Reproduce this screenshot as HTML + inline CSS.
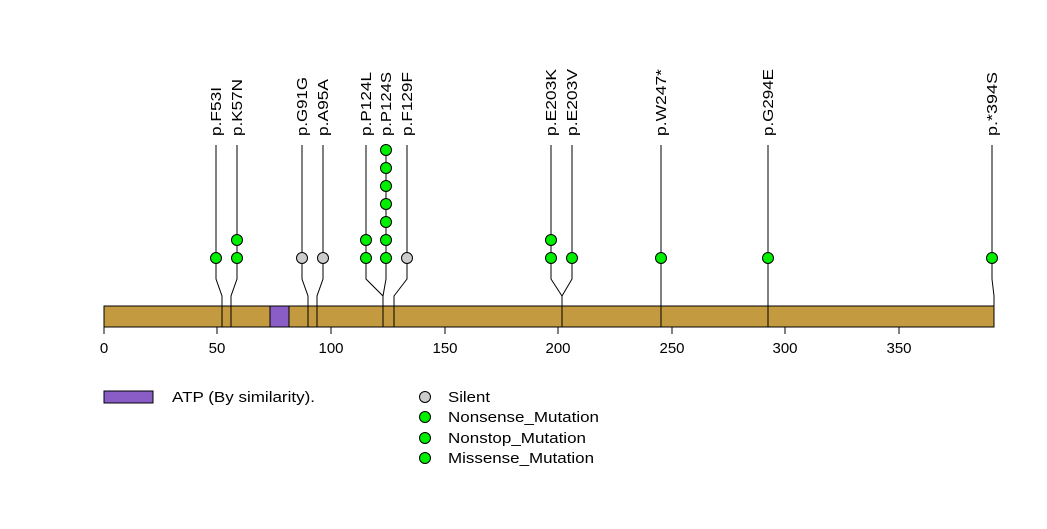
<!DOCTYPE html>
<html><head><style>body{margin:0;background:#fff}</style></head><body>
<svg width="1047" height="524" xmlns="http://www.w3.org/2000/svg" font-family="Liberation Sans, sans-serif">
<rect x="0" y="0" width="1047" height="524" fill="#fff"/>
<g stroke="#000" stroke-width="1" fill="none">
<polyline points="216,145 216,279 222,296 222,327"/>
<polyline points="237,145 237,279 231,296 231,327"/>
<polyline points="302,145 302,279 308,296 308,327"/>
<polyline points="323,145 323,279 317,296 317,327"/>
<polyline points="366,145 366,279 383,296 383,327"/>
<polyline points="386,145 386,279 383,296"/>
<polyline points="407,145 407,279 394,296 394,327"/>
<polyline points="551,145 551,279 562,296 562,327"/>
<polyline points="572,145 572,279 562,296"/>
<polyline points="661,145 661,327"/>
<polyline points="768,145 768,327"/>
<polyline points="992,145 992,279 994,296 994,327"/>
</g>
<rect x="104" y="306" width="890" height="21" fill="#c49a40" stroke="#000"/>
<rect x="270" y="306" width="19" height="21" fill="#8a5cc6" stroke="#000"/>
<g stroke="#000">
<line x1="222" y1="306" x2="222" y2="327"/><line x1="231" y1="306" x2="231" y2="327"/>
<line x1="308" y1="306" x2="308" y2="327"/><line x1="317" y1="306" x2="317" y2="327"/>
<line x1="383" y1="306" x2="383" y2="327"/><line x1="394" y1="306" x2="394" y2="327"/>
<line x1="562" y1="306" x2="562" y2="327"/><line x1="661" y1="306" x2="661" y2="327"/>
<line x1="768" y1="306" x2="768" y2="327"/>
</g>
<g stroke="#000" fill="#00ee00">
<circle cx="216" cy="258" r="5.5"/>
<circle cx="237" cy="258" r="5.5"/><circle cx="237" cy="240" r="5.5"/>
<circle cx="366" cy="258" r="5.5"/><circle cx="366" cy="240" r="5.5"/>
<circle cx="386" cy="258" r="5.5"/><circle cx="386" cy="240" r="5.5"/><circle cx="386" cy="222" r="5.5"/><circle cx="386" cy="204" r="5.5"/><circle cx="386" cy="186" r="5.5"/><circle cx="386" cy="168" r="5.5"/><circle cx="386" cy="150" r="5.5"/>
<circle cx="551" cy="258" r="5.5"/><circle cx="551" cy="240" r="5.5"/>
<circle cx="572" cy="258" r="5.5"/>
<circle cx="661" cy="258" r="5.5"/>
<circle cx="768" cy="258" r="5.5"/>
<circle cx="992" cy="258" r="5.5"/>
</g>
<g stroke="#000" fill="#cccccc">
<circle cx="302" cy="258" r="5.5"/><circle cx="323" cy="258" r="5.5"/><circle cx="407" cy="258" r="5.5"/>
</g>
<g font-size="15" fill="#000" lengthAdjust="spacingAndGlyphs">
<text transform="translate(221,136) rotate(-90)" textLength="49" lengthAdjust="spacingAndGlyphs">p.F53I</text>
<text transform="translate(242,136) rotate(-90)" textLength="57" lengthAdjust="spacingAndGlyphs">p.K57N</text>
<text transform="translate(307,136) rotate(-90)" textLength="59" lengthAdjust="spacingAndGlyphs">p.G91G</text>
<text transform="translate(328,136) rotate(-90)" textLength="57" lengthAdjust="spacingAndGlyphs">p.A95A</text>
<text transform="translate(371,136) rotate(-90)" textLength="64" lengthAdjust="spacingAndGlyphs">p.P124L</text>
<text transform="translate(391,136) rotate(-90)" textLength="64" lengthAdjust="spacingAndGlyphs">p.P124S</text>
<text transform="translate(412,136) rotate(-90)" textLength="64" lengthAdjust="spacingAndGlyphs">p.F129F</text>
<text transform="translate(556,136) rotate(-90)" textLength="67" lengthAdjust="spacingAndGlyphs">p.E203K</text>
<text transform="translate(577,136) rotate(-90)" textLength="67" lengthAdjust="spacingAndGlyphs">p.E203V</text>
<text transform="translate(666,136) rotate(-90)" textLength="67" lengthAdjust="spacingAndGlyphs">p.W247*</text>
<text transform="translate(773,136) rotate(-90)" textLength="67" lengthAdjust="spacingAndGlyphs">p.G294E</text>
<text transform="translate(997,136) rotate(-90)" textLength="64" lengthAdjust="spacingAndGlyphs">p.*394S</text>
</g>
<g stroke="#000">
<line x1="104" y1="327" x2="899" y2="327"/>
<line x1="104" y1="327" x2="104" y2="334"/><line x1="217" y1="327" x2="217" y2="334"/>
<line x1="331" y1="327" x2="331" y2="334"/><line x1="445" y1="327" x2="445" y2="334"/>
<line x1="558" y1="327" x2="558" y2="334"/><line x1="672" y1="327" x2="672" y2="334"/>
<line x1="785" y1="327" x2="785" y2="334"/><line x1="899" y1="327" x2="899" y2="334"/>
</g>
<g font-size="15" fill="#000" text-anchor="middle">
<text x="104" y="353">0</text><text x="217" y="353">50</text><text x="331" y="353">100</text>
<text x="445" y="353">150</text><text x="558" y="353">200</text><text x="672" y="353">250</text>
<text x="785" y="353">300</text><text x="899" y="353">350</text>
</g>
<rect x="104" y="391" width="49" height="12" fill="#8a5cc6" stroke="#000"/>
<text x="172" y="402" font-size="15" textLength="143" lengthAdjust="spacingAndGlyphs">ATP (By similarity).</text>
<circle cx="425" cy="397" r="5.5" fill="#cccccc" stroke="#000"/>
<circle cx="425" cy="417" r="5.5" fill="#00ee00" stroke="#000"/>
<circle cx="425" cy="438" r="5.5" fill="#00ee00" stroke="#000"/>
<circle cx="425" cy="458" r="5.5" fill="#00ee00" stroke="#000"/>
<g font-size="15" fill="#000">
<text x="448" y="402" textLength="42" lengthAdjust="spacingAndGlyphs">Silent</text>
<text x="448" y="422" textLength="151" lengthAdjust="spacingAndGlyphs">Nonsense_Mutation</text>
<text x="448" y="443" textLength="138" lengthAdjust="spacingAndGlyphs">Nonstop_Mutation</text>
<text x="448" y="463" textLength="146" lengthAdjust="spacingAndGlyphs">Missense_Mutation</text>
</g>
</svg>
</body></html>
